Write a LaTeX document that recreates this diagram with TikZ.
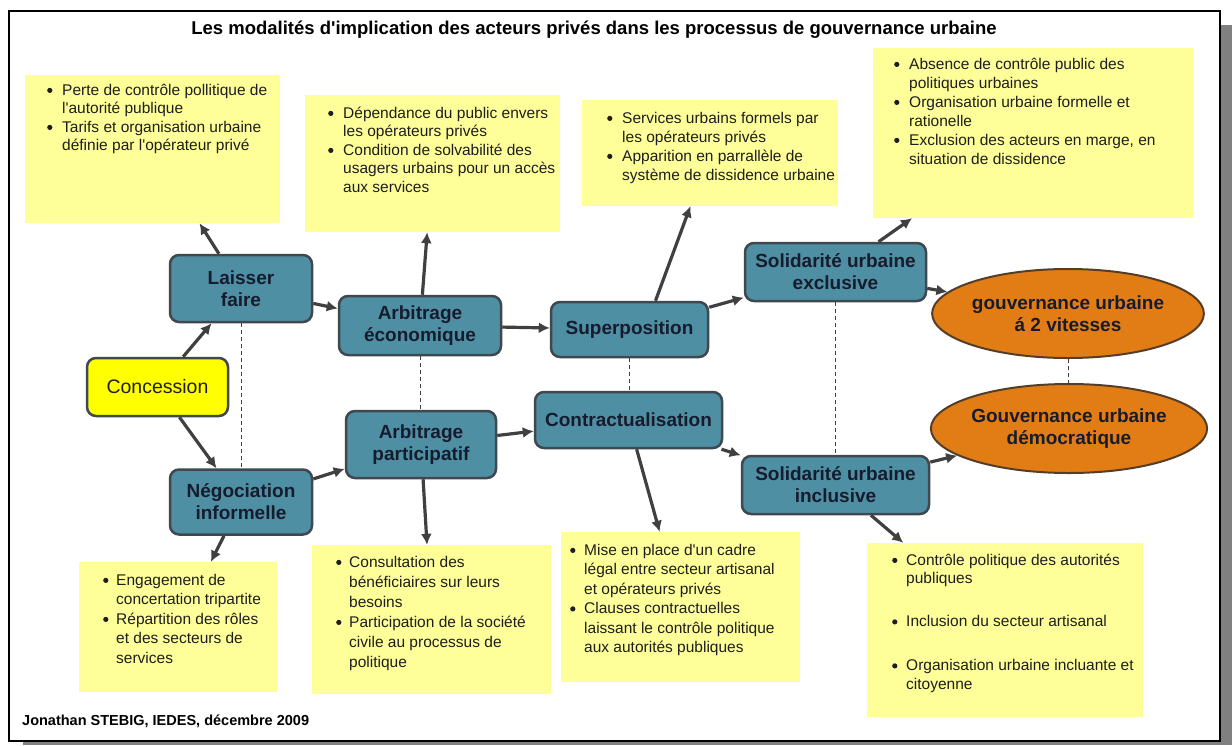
\documentclass[tikz,border=0pt]{standalone}
\usepackage{fontspec}
\setmainfont[Ligatures=TeXOff]{Liberation Sans}
\usetikzlibrary{arrows.meta,shapes.geometric}
\definecolor{teal1}{RGB}{79,143,163}
\definecolor{tealborder}{RGB}{62,72,78}
\definecolor{nodetext}{RGB}{22,28,45}
\definecolor{arrowc}{RGB}{64,64,64}
\definecolor{orange1}{RGB}{226,125,22}
\definecolor{orangeborder}{RGB}{85,62,40}
\definecolor{ybox}{RGB}{255,255,153}
\definecolor{conc}{RGB}{255,255,0}
\definecolor{boxtext}{RGB}{30,30,30}
\definecolor{shadowc}{RGB}{128,128,128}
\newcommand{\bigbullet}{\raisebox{2pt}{\tikz\fill[boxtext] (0,0) circle (2.6pt);}}
\newcommand{\bitem}[2]{\par\noindent\hangindent=#1\hangafter=1\makebox[#1][l]{\bigbullet}#2}
\newcommand{\boxtxt}[2]{\parbox[t]{400pt}{\fontsize{15.5}{#1}\selectfont#2}}
\tikzset{
  procbox/.style={draw=tealborder, line width=2.5pt, fill=teal1, rounded corners=9pt,
    align=center, inner sep=0pt, text=nodetext,
    font=\bfseries\fontsize{19}{22}\selectfont},
  outcome/.style={ellipse, draw=orangeborder, line width=2pt, fill=orange1,
    align=center, inner sep=0pt, text=nodetext,
    font=\bfseries\fontsize{19}{22}\selectfont},
  startbox/.style={draw=tealborder, line width=2.5pt, fill=conc, rounded corners=9pt,
    align=center, inner sep=0pt, text=boxtext,
    font=\fontsize{19.5}{22}\selectfont},
  notebox/.style={fill=ybox, draw=none, inner sep=0pt},
  notetext/.style={anchor=base west, inner sep=0pt, text=boxtext},
  arr/.style={draw=arrowc, line width=3.2pt, -{Latex[length=11pt,width=11pt]}},
  tie/.style={draw=arrowc, line width=0.8pt, dash pattern=on 4pt off 3pt}
}
\begin{document}
\begin{tikzpicture}[x=1pt,y=-1pt]
\useasboundingbox (0,0) rectangle (1232,745);
% frame with shadow
\fill[shadowc] (23,25) rectangle (1232,745);
\filldraw[fill=white, draw=black, line width=2pt] (9,11) rectangle (1220,741);
% title and footer
\node[anchor=base, inner sep=0pt, font=\bfseries\fontsize{18.5}{22}\selectfont] (title) at (594,34)
  {Les modalités d'implication des acteurs privés dans les processus de gouvernance urbaine};
\node[anchor=base west, inner sep=0pt, font=\bfseries\fontsize{14.5}{17}\selectfont] (footer) at (22,725)
  {Jonathan STEBIG, IEDES, décembre 2009};
% note boxes
\node[notebox, minimum width=255pt, minimum height=148pt] (bA) at (152.5,149) {};
\node[notebox, minimum width=255pt, minimum height=137pt] (bB) at (432.5,163.5) {};
\node[notebox, minimum width=256pt, minimum height=106pt] (bC) at (710,153) {};
\node[notebox, minimum width=320pt, minimum height=170pt] (bD) at (1033,133) {};
\node[notebox, minimum width=198pt, minimum height=130pt] (bE) at (178,627) {};
\node[notebox, minimum width=239pt, minimum height=149pt] (bF) at (431.5,619.5) {};
\node[notebox, minimum width=239pt, minimum height=150pt] (bG) at (680.5,607) {};
\node[notebox, minimum width=276pt, minimum height=174pt] (bH) at (1005,630) {};
% note texts
\node[notetext] (tA) at (47,95) {\boxtxt{18.5}{%
 \bitem{15pt}{Perte de contrôle pollitique de\\l'autorité publique}
 \bitem{15pt}{Tarifs et organisation urbaine\\définie par l'opérateur privé}}};
\node[notetext] (tB) at (328,118) {\boxtxt{18.5}{%
 \bitem{15pt}{Dépendance du public envers\\les opérateurs privés}
 \bitem{15pt}{Condition de solvabilité des\\usagers urbains pour un accès\\aux services}}};
\node[notetext] (tC) at (607,123) {\boxtxt{19}{%
 \bitem{15pt}{Services urbains formels par\\les opérateurs privés}
 \bitem{15pt}{Apparition en parrallèle de\\système de dissidence urbaine}}};
\node[notetext] (tD) at (894,69) {\boxtxt{19}{%
 \bitem{15pt}{Absence de contrôle public des\\politiques urbaines}
 \bitem{15pt}{Organisation urbaine formelle et\\rationelle}
 \bitem{15pt}{Exclusion des acteurs en marge, en\\situation de dissidence}}};
\node[notetext] (tE) at (103,585) {\boxtxt{19.5}{%
 \bitem{13pt}{Engagement de\\concertation tripartite}
 \bitem{13pt}{Répartition des rôles\\et des secteurs de\\services}}};
\node[notetext] (tF) at (336,567) {\boxtxt{20}{%
 \bitem{13pt}{Consultation des\\bénéficiaires sur leurs\\besoins}
 \bitem{13pt}{Participation de la société\\civile au processus de\\politique}}};
\node[notetext] (tG) at (570,555) {\boxtxt{19.5}{%
 \bitem{14pt}{Mise en place d'un cadre\\légal entre secteur artisanal\\et opérateurs privés}
 \bitem{14pt}{Clauses contractuelles\\laissant le contrôle politique\\aux autorités publiques}}};
\node[notetext] (tH) at (892,565) {\boxtxt{18.5}{%
 \bitem{14pt}{Contrôle politique des autorités\\publiques}
 \par\vspace{24.5pt}
 \bitem{14pt}{Inclusion du secteur artisanal}
 \par\vspace{25.5pt}
 \bitem{14pt}{Organisation urbaine incluante et\\citoyenne}}};
% process nodes
\node[startbox, minimum width=141pt, minimum height=58pt] (conc) at (157.5,387) {Concession};
\node[procbox, minimum width=142pt, minimum height=67pt] (laisser) at (241,288.5) {Laisser\\faire};
\node[procbox, minimum width=142pt, minimum height=65pt] (nego) at (241,502) {Négociation\\informelle};
\node[procbox, minimum width=162pt, minimum height=59pt] (arbeco) at (420,325.5) {Arbitrage\\économique};
\node[procbox, minimum width=150pt, minimum height=67pt] (arbpart) at (421,444.5) {Arbitrage\\participatif};
\node[procbox, minimum width=157pt, minimum height=55pt] (super) at (629.5,329.5) {Superposition};
\node[procbox, minimum width=187pt, minimum height=56pt] (contr) at (628.5,420) {Contractualisation};
\node[procbox, minimum width=181pt, minimum height=58pt] (solex) at (835.5,272) {Solidarité urbaine\\exclusive};
\node[procbox, minimum width=187pt, minimum height=58pt] (solin) at (835.5,485) {Solidarité urbaine\\inclusive};
\node[outcome, minimum width=262pt, minimum height=89pt] (ell1) at (1068,313.5) {gouvernance urbaine\\á 2 vitesses};
\node[outcome, minimum width=264pt, minimum height=89pt] (ell2) at (1069,428.5) {Gouvernance urbaine\\démocratique};
% dashed ties
\draw[tie] (laisser) -- (nego);
\draw[tie] (arbeco.south) -- (arbeco.south |- arbpart.north);
\draw[tie] (super) -- (super |- contr.north);
\draw[tie] (solex) -- (solin);
\draw[tie] (ell1) -- (ell2);
% arrows
\draw[arr] (conc) -- (laisser);
\draw[arr] (conc) -- (nego);
\draw[arr] (laisser) -- (bA);
\draw[arr] (laisser) -- (arbeco);
\draw[arr] (nego) -- (arbpart);
\draw[arr] (nego) -- (bE);
\draw[arr] (arbeco) -- (bB);
\draw[arr] (arbeco) -- (super);
\draw[arr] (arbpart) -- (bF);
\draw[arr] (arbpart) -- (contr);
\draw[arr] ([xshift=26pt]super.north) -- (bC);
\draw[arr] (super) -- (solex);
\draw[arr] (contr) -- (bG);
\draw[arr] (contr) -- (solin);
\draw[arr] (solex) -- (bD);
\draw[arr] (solex) -- (ell1);
\draw[arr] (solin) -- (ell2);
\draw[arr] (solin) -- (bH);
\end{tikzpicture}
\end{document}
